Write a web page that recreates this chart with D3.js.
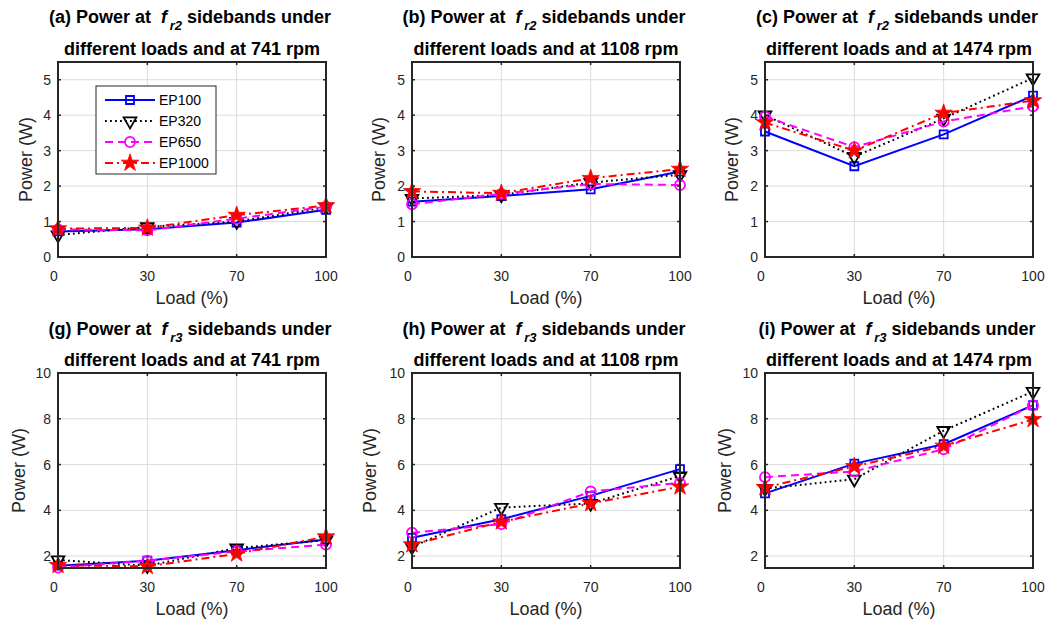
<!DOCTYPE html>
<html><head><meta charset="utf-8">
<script src="https://cdn.jsdelivr.net/npm/d3@7"></script>
<style>body{margin:0;background:#fff}text{font-family:"Liberation Sans",Arial,sans-serif}</style>
</head><body>
<svg id="c" width="1052" height="625" xmlns="http://www.w3.org/2000/svg"></svg>
<script>
// ---------- data ----------
const loads = ["0", "30", "70", "100"];
const seriesNames = ["EP100", "EP320", "EP650", "EP1000"];

// rows: EP100, EP320, EP650, EP1000 ; columns: load 0,30,70,100
const fr2_741  = [[0.72,0.78,0.97,1.33],[0.62,0.85,1.00,1.40],[0.78,0.75,1.08,1.42],[0.80,0.82,1.18,1.45]];
const fr2_1108 = [[1.56,1.72,1.91,2.41],[1.65,1.75,2.10,2.32],[1.49,1.78,2.06,2.03],[1.85,1.80,2.22,2.48]];
const fr2_1474 = [[3.54,2.56,3.46,4.55],[4.00,2.83,3.91,5.05],[3.96,3.10,3.82,4.25],[3.79,3.00,4.06,4.41]];
const fr3_741  = [[1.58,1.80,2.26,2.73],[1.83,1.58,2.35,2.70],[1.50,1.80,2.20,2.50],[1.60,1.55,2.10,2.85]];
const fr3_1108 = [[2.80,3.61,4.63,5.80],[2.40,4.12,4.30,5.50],[3.02,3.40,4.82,5.20],[2.50,3.50,4.30,5.03]];
const fr3_1474 = [[4.74,6.04,6.89,8.59],[4.95,5.36,7.48,9.19],[5.45,5.70,6.67,8.59],[5.00,5.92,6.81,7.97]];

const topYTicks = [0, 1, 2, 3, 4, 5];
const bottomYTicks = [2, 4, 6, 8, 10];

const panels = [
  {label:"(a)", sub:"r2", rpm:"741",  data:fr2_741},
  {label:"(b)", sub:"r2", rpm:"1108", data:fr2_1108},
  {label:"(c)", sub:"r2", rpm:"1474", data:fr2_1474},
  {label:"(g)", sub:"r3", rpm:"741",  data:fr3_741},
  {label:"(h)", sub:"r3", rpm:"1108", data:fr3_1108},
  {label:"(i)", sub:"r3", rpm:"1474", data:fr3_1474}
];

// ---------- styles / layout ----------
const colors = ["#0000ff", "#000000", "#ff00ff", "#ff0000"];
const dashes = [null, "1.8,3.2", "8,5", "8,4,2,4"];
const symbols = [d3.symbolSquare, d3.symbolTriangle, d3.symbolCircle, d3.symbolStar];
const symSizes = [64, 70, 80, 95];
const symRot = [0, 180, 0, 0];
const colLeft = [58, 412, 765];
const axW = 268, axH = 195;
const rowTop = [62, 373];
const yDomains = [[0, 5.5], [1.48, 10]];
const yLabelOff = [[32, 33, 33], [39, 42, 40]];
const title1Base = [23, 335];
const title2Base = [55, 366];
const ink = "#262626";

const svg = d3.select("#c");

panels.forEach((p, i) => {
  const row = Math.floor(i / 3), col = i % 3;
  const L = colLeft[col], T = rowTop[row];
  const g = svg.append("g");
  const x = d3.scalePoint().domain(loads).range([L, L + axW]).padding(0);
  const y = d3.scaleLinear().domain(yDomains[row]).range([T + axH, T]);
  const yt = row === 0 ? topYTicks : bottomYTicks;

  // grid
  g.selectAll(".gx").data(loads.slice(1, -1)).join("line")
    .attr("x1", d => x(d)).attr("x2", d => x(d)).attr("y1", T).attr("y2", T + axH)
    .attr("stroke", "#dcdcdc").attr("stroke-width", 1);
  g.selectAll(".gy").data(yt.filter(v => y(v) > T + 1 && y(v) < T + axH - 1)).join("line")
    .attr("x1", L).attr("x2", L + axW).attr("y1", d => y(d)).attr("y2", d => y(d))
    .attr("stroke", "#dcdcdc").attr("stroke-width", 1);

  // series
  p.data.forEach((vals, s) => {
    const line = d3.line().x((d, k) => x(loads[k])).y(d => y(d));
    g.append("path").attr("d", line(vals)).attr("fill", "none")
      .attr("stroke", colors[s]).attr("stroke-width", 2)
      .attr("stroke-dasharray", dashes[s]);
    g.selectAll(null).data(vals).join("path")
      .attr("transform", (d, k) => `translate(${x(loads[k])},${y(d)}) rotate(${symRot[s]})`)
      .attr("d", d3.symbol(symbols[s], symSizes[s]))
      .attr("fill", s === 3 ? colors[s] : "none")
      .attr("stroke", colors[s]).attr("stroke-width", s === 3 ? 0.8 : 1.8);
  });

  // box
  g.append("rect").attr("x", L).attr("y", T).attr("width", axW).attr("height", axH)
    .attr("fill", "none").attr("stroke", ink).attr("stroke-width", 2);
  // ticks (inside, all sides)
  loads.forEach(d => {
    g.append("line").attr("x1", x(d)).attr("x2", x(d)).attr("y1", T + axH).attr("y2", T + axH - 3).attr("stroke", ink).attr("stroke-width", 1.5);
    g.append("line").attr("x1", x(d)).attr("x2", x(d)).attr("y1", T).attr("y2", T + 3).attr("stroke", ink).attr("stroke-width", 1.5);
  });
  yt.forEach(v => {
    g.append("line").attr("x1", L).attr("x2", L + 3).attr("y1", y(v)).attr("y2", y(v)).attr("stroke", ink).attr("stroke-width", 1.5);
    g.append("line").attr("x1", L + axW).attr("x2", L + axW - 3).attr("y1", y(v)).attr("y2", y(v)).attr("stroke", ink).attr("stroke-width", 1.5);
  });

  // tick labels
  g.selectAll(".xl").data(loads).join("text")
    .attr("x", d => x(d) - (d === "0" ? 4 : 0)).attr("y", T + axH + 24)
    .attr("text-anchor", "middle").attr("font-size", 14).attr("fill", ink).text(d => d);
  g.selectAll(".yl").data(yt).join("text")
    .attr("x", L - 7).attr("y", d => y(d) + 5)
    .attr("text-anchor", "end").attr("font-size", 14).attr("fill", ink).text(d => d);

  // axis labels
  g.append("text").attr("x", L + axW / 2).attr("y", T + axH + 47)
    .attr("text-anchor", "middle").attr("font-size", 18).attr("fill", ink).text("Load (%)");
  const yl = L - yLabelOff[row][col], ym = T + axH / 2;
  g.append("text").attr("transform", `translate(${yl},${ym}) rotate(-90)`)
    .attr("text-anchor", "middle").attr("dominant-baseline", "central")
    .attr("font-size", 18).attr("fill", ink).text("Power (W)");

  // title
  const t1 = g.append("text").attr("x", L + axW / 2 - 2).attr("y", title1Base[row])
    .attr("text-anchor", "middle").attr("font-size", 18).attr("font-weight", "bold").attr("fill", "#000");
  t1.append("tspan").text(p.label + " Power at\u00A0\u00A0");
  t1.append("tspan").attr("font-style", "italic").text("f");
  t1.append("tspan").attr("font-style", "italic").attr("font-size", 13).attr("dy", 7).text("\u2009" + p.sub);
  t1.append("tspan").attr("dy", -7).text(" sidebands under");
  g.append("text").attr("x", L + axW / 2).attr("y", title2Base[row])
    .attr("text-anchor", "middle").attr("font-size", 18).attr("font-weight", "bold").attr("fill", "#000")
    .text("different loads and at " + p.rpm + " rpm");

  // legend in first panel
  if (i === 0) {
    const lg = svg.append("g");
    lg.append("rect").attr("x", 96).attr("y", 86).attr("width", 120).attr("height", 88)
      .attr("fill", "#fff").attr("stroke", ink).attr("stroke-width", 1);
    seriesNames.forEach((n, s) => {
      const yy = 100 + s * 21;
      lg.append("line").attr("x1", 105).attr("x2", 155).attr("y1", yy).attr("y2", yy)
        .attr("stroke", colors[s]).attr("stroke-width", 2).attr("stroke-dasharray", dashes[s]);
      lg.append("path").attr("transform", `translate(130,${yy}) rotate(${symRot[s]})`)
        .attr("d", d3.symbol(symbols[s], symSizes[s]))
        .attr("fill", s === 3 ? colors[s] : "none")
        .attr("stroke", colors[s]).attr("stroke-width", s === 3 ? 0.8 : 1.8);
      lg.append("text").attr("x", 159).attr("y", yy + 5).attr("font-size", 14).attr("fill", "#000").text(n);
    });
  }
});
</script>
</body></html>
